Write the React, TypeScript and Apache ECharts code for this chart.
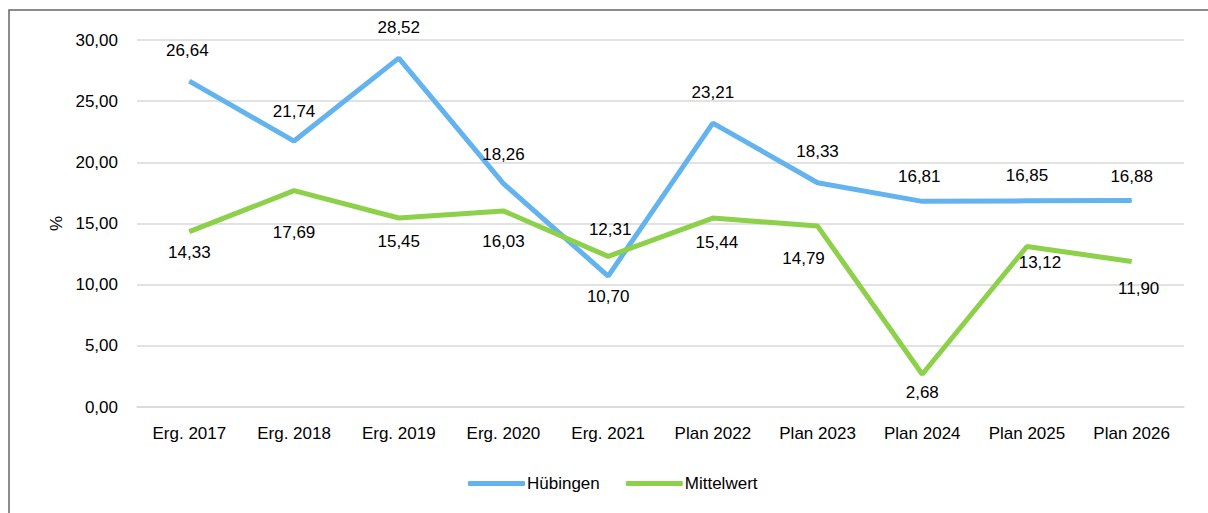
import React, { useEffect, useRef } from "react";
import * as echarts from "echarts";

const categories = ["Erg. 2017", "Erg. 2018", "Erg. 2019", "Erg. 2020", "Erg. 2021", "Plan 2022", "Plan 2023", "Plan 2024", "Plan 2025", "Plan 2026"];
const huebingen = [26.64, 21.74, 28.52, 18.26, 10.7, 23.21, 18.33, 16.81, 16.85, 16.88];
const mittelwert = [14.33, 17.69, 15.45, 16.03, 12.31, 15.44, 14.79, 2.68, 13.12, 11.9];
const huebOffsets: number[][] = [[-2, -31], [0, -30], [0, -31], [0, -29], [0, 20], [0, -31], [0, -31], [-3, -25], [0, -25], [0, -24]];
const mittOffsets: number[][] = [[0, 21], [0, 42], [0, 24], [0, 31], [2, -27], [4, 24], [-14, 32], [0, 18], [13, 16], [7, 27]];

const FONT = "'Liberation Sans', Arial, sans-serif";
const FS = 17;
const fmt = (v: number) => v.toFixed(2).replace(".", ",");

export default function App() {
  const ref = useRef<HTMLDivElement>(null);
  useEffect(() => {
    document.body.style.margin = "0";
    const chart = echarts.init(ref.current!, undefined, { renderer: "svg" });
    const mk = (vals: number[], offs: number[][]) =>
      vals.map((v, i) => ({ value: v, label: { offset: offs[i] } }));
    chart.setOption({
      animation: false,
      textStyle: { fontFamily: FONT },
      graphic: [
        { type: "rect", shape: { x: 9, y: 10, width: 1300, height: 600 }, style: { fill: "none", stroke: "#666", lineWidth: 1.5 }, silent: true },
      ],
      grid: { left: 137, right: 24, top: 40, bottom: 106 },
      legend: {
        top: 475,
        left: 468,
        padding: 0,
        itemWidth: 57,
        itemHeight: 5,
        itemGap: 26,
        textStyle: { fontFamily: FONT, fontSize: FS, color: "#000", padding: [0, 0, 0, -3] },
        data: [
          { name: "Hübingen", icon: "roundRect" },
          { name: "Mittelwert", icon: "roundRect" },
        ],
      },
      xAxis: {
        type: "category",
        data: categories,
        boundaryGap: true,
        axisLine: { lineStyle: { color: "#D9D9D9", width: 1.5 } },
        axisTick: { show: false },
        axisLabel: { color: "#000", fontSize: FS, fontFamily: FONT, margin: 18, interval: 0 },
      },
      yAxis: {
        type: "value",
        min: 0,
        max: 30,
        interval: 5,
        name: "%",
        nameLocation: "middle",
        nameGap: 72,
        nameRotate: 90,
        nameTextStyle: { color: "#000", fontSize: FS, fontFamily: FONT },
        axisLine: { show: false },
        axisTick: { show: false },
        splitLine: { lineStyle: { color: "#D9D9D9", width: 1.5 } },
        axisLabel: { color: "#000", fontSize: FS, fontFamily: FONT, margin: 19, formatter: (v: number) => fmt(v) },
      },
      series: [
        {
          name: "Hübingen",
          type: "line",
          data: mk(huebingen, huebOffsets),
          color: "#63B3EF",
          lineStyle: { width: 5, color: "#63B3EF" },
          symbol: "circle",
          symbolSize: 1,
          label: { show: true, position: "inside", color: "#000", fontSize: FS, fontFamily: FONT, formatter: (p: any) => fmt(p.value) },
        },
        {
          name: "Mittelwert",
          type: "line",
          data: mk(mittelwert, mittOffsets),
          color: "#8DD04A",
          lineStyle: { width: 5, color: "#8DD04A" },
          symbol: "circle",
          symbolSize: 1,
          label: { show: true, position: "inside", color: "#000", fontSize: FS, fontFamily: FONT, formatter: (p: any) => fmt(p.value) },
        },
      ],
    });
    return () => chart.dispose();
  }, []);
  return <div ref={ref} style={{ width: 1208, height: 513 }} />;
}
